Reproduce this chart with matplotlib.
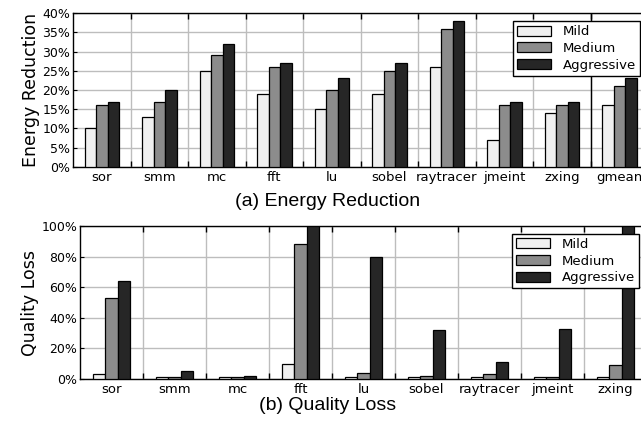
import matplotlib.pyplot as plt
import numpy as np

# energy reduction (%)
er_names = ['sor', 'smm', 'mc', 'fft', 'lu', 'sobel', 'raytracer', 'jmeint', 'zxing', 'gmean']
er_mild = [10, 13, 25, 19, 15, 19, 26, 7, 14, 16]
er_medium = [16, 17, 29, 26, 20, 25, 36, 16, 16, 21]
er_aggr = [17, 20, 32, 27, 23, 27, 38, 17, 17, 23]

# quality loss (%)
ql_names = ['sor', 'smm', 'mc', 'fft', 'lu', 'sobel', 'raytracer', 'jmeint', 'zxing']
ql_mild = [3, 1, 1, 10, 1, 1, 1, 1, 1]
ql_medium = [53, 1, 1, 88, 4, 2, 3, 1, 9]
ql_aggr = [64, 5, 2, 100, 80, 32, 11, 33, 100]

levels = ['Mild', 'Medium', 'Aggressive']
cols = ['#f0f0f0', '#8c8c8c', '#262626']

W, H = 641, 424
fig = plt.figure(figsize=(W/100, H/100), dpi=100)

def panel(rect, names, series, ymax, ystep, ylabel):
    ax = fig.add_axes(rect)
    x = np.arange(len(names))
    for k, (vals, c, lab) in enumerate(zip(series, cols, levels)):
        ax.bar(x + (k-1)*0.2, vals, 0.2, color=c, edgecolor='black', linewidth=0.9,
               label=lab, zorder=3)
    ax.set_xlim(-0.5, len(names)-0.5)
    ax.set_ylim(0, ymax)
    yt = np.arange(0, ymax+1, ystep)
    ax.set_yticks(yt)
    ax.set_yticklabels(['%d%%' % v for v in yt], fontsize=9)
    # ticks at group boundaries, labels at group centres
    ax.set_xticks(np.arange(len(names)-1) + 0.5)
    ax.set_xticklabels([])
    ax.set_xticks(x, minor=True)
    ax.set_xticklabels(names, minor=True, fontsize=9.5)
    ax.tick_params(axis='x', which='major', direction='in', length=4, top=True, width=1)
    ax.tick_params(axis='x', which='minor', length=0, pad=3)
    ax.tick_params(axis='y', direction='in', length=3, pad=2)
    ax.grid(True, which='major', color='#bdbdbd', linewidth=1, zorder=0)
    ax.set_axisbelow(True)
    ax.set_ylabel(ylabel, fontsize=12.5, labelpad=2)
    for s in ax.spines.values():
        s.set_linewidth(1)
    leg = ax.legend(loc='upper right', fontsize=9.5, fancybox=False, edgecolor='black',
                    framealpha=1, borderpad=0.3, labelspacing=0.28, handlelength=2.6,
                    handleheight=0.8, handletextpad=0.9, borderaxespad=0.6)
    leg.get_frame().set_linewidth(1)
    return ax

ax1 = panel([73/W, 1-166.7/H, 575/W, 153.4/H], er_names,
            [er_mild, er_medium, er_aggr], 40, 5, 'Energy Reduction')
ax1.axvline(8.5, color='black', linewidth=1, zorder=1)

ax2 = panel([80/W, 1-379/H, 567/W, 153/H], ql_names,
            [ql_mild, ql_medium, ql_aggr], 100, 20, 'Quality Loss')

fig.text(328/W, 1-202/H, '(a) Energy Reduction', ha='center', va='center',
         fontsize=14, family='Liberation Sans')
fig.text(328/W, 1-406/H, '(b) Quality Loss', ha='center', va='center',
         fontsize=14, family='Liberation Sans')

fig.savefig('out.png', dpi=100)
